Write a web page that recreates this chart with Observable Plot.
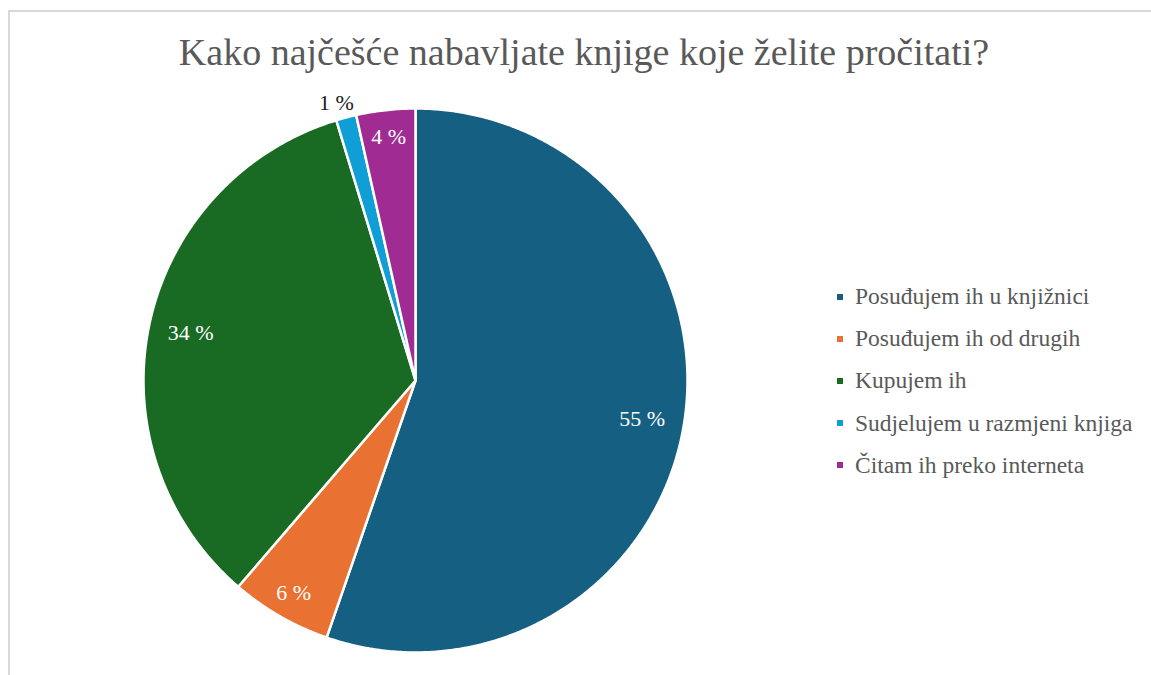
<!DOCTYPE html>
<html>
<head>
<meta charset="utf-8">
<script src="https://cdn.jsdelivr.net/npm/d3@7"></script>
<script src="https://cdn.jsdelivr.net/npm/@observablehq/plot@0.6"></script>
<style>
  html, body { margin: 0; padding: 0; background: #fff; }
  #wrap { position: relative; width: 1151px; height: 675px; overflow: hidden; font-family: 'Liberation Serif', serif; }
  #frame { position: absolute; left: 8px; top: 10px; width: 1160px; height: 700px; border-left: 2px solid #d9d9d9; border-top: 2px solid #d9d9d9; }
  #title { position: absolute; left: 9px; width: 1150px; top: 28px; text-align: center; font-family: 'Liberation Serif', serif; font-size: 38px; color: #595959; line-height: 48px; white-space: nowrap; }
  #chart { position: absolute; left: 0; top: 0; }
  #legend { position: absolute; left: 837px; top: 275px; color: #595959; font-family: 'Liberation Serif', serif; font-size: 23.5px; }
  .row { height: 42.2px; line-height: 42.2px; white-space: nowrap; }
  .sw { display: inline-block; width: 6px; height: 6px; margin-right: 12px; vertical-align: middle; position: relative; top: -2px; }
</style>
</head>
<body>
<div id="wrap">
  <div id="frame"></div>
  <div id="chart"></div>
  <div id="title"></div>
  <div id="legend"></div>
</div>
<script>
const titleText = "Kako najčešće nabavljate knjige koje želite pročitati?";
const categories = [
  "Posuđujem ih u knjižnici",
  "Posuđujem ih od drugih",
  "Kupujem ih",
  "Sudjelujem u razmjeni knjiga",
  "Čitam ih preko interneta"
];
const values = [55.3, 6.0, 34.0, 1.2, 3.5];
const colors = ["#156082", "#E97132", "#196B24", "#0F9ED5", "#A02B93"];

document.getElementById("title").textContent = titleText;

// pie geometry from the data
const pie = d3.pie().sort(null).value(d => d.value);
const arcs = pie(categories.map((c, i) => ({key: c, value: values[i]})));

const polyPts = [];
arcs.forEach(a => {
  polyPts.push({key: a.data.key, x: 0, y: 0});
  const n = Math.max(2, Math.ceil((a.endAngle - a.startAngle) / (Math.PI / 360)));
  for (let k = 0; k <= n; k++) {
    const t = a.startAngle + (a.endAngle - a.startAngle) * k / n;
    polyPts.push({key: a.data.key, x: Math.sin(t), y: Math.cos(t)});
  }
});

const labels = arcs.map(a => {
  const mid = (a.startAngle + a.endAngle) / 2;
  const v = a.data.value;
  const r = v < 2 ? 1.06 : v < 10 ? 0.9 : 0.845;
  const ang = v < 2 ? mid - 0.02 : mid;
  return {
    key: a.data.key,
    text: Math.round(v) + " %",
    x: r * Math.sin(ang),
    y: r * Math.cos(ang),
    inside: v >= 2
  };
});

const plot = Plot.plot({
  width: 1151,
  height: 675,
  margin: 0,
  x: {domain: [-1, 1], range: [143, 687], axis: null},
  y: {domain: [-1, 1], range: [652, 108], axis: null},
  color: {domain: categories, range: colors},
  style: {background: "transparent", fontFamily: "'Liberation Serif', serif"},
  marks: [
    Plot.line(polyPts, {
      x: "x", y: "y", z: "key", fill: "key",
      stroke: "white", strokeWidth: 2.5, strokeLinejoin: "round",
      curve: "linear-closed"
    }),
    Plot.text(labels, {
      x: "x", y: "y", text: "text",
      fill: d => d.inside ? "white" : "#1a1a1a",
      fontSize: 22, fontFamily: "Liberation Serif", textAnchor: "middle"
    })
  ]
});
document.getElementById("chart").appendChild(plot);

const legend = document.getElementById("legend");
categories.forEach((c, i) => {
  const row = document.createElement("div");
  row.className = "row";
  const sw = document.createElement("span");
  sw.className = "sw";
  sw.style.background = colors[i];
  const t = document.createElement("span");
  t.textContent = c;
  row.appendChild(sw);
  row.appendChild(t);
  legend.appendChild(row);
});
</script>
</body>
</html>
